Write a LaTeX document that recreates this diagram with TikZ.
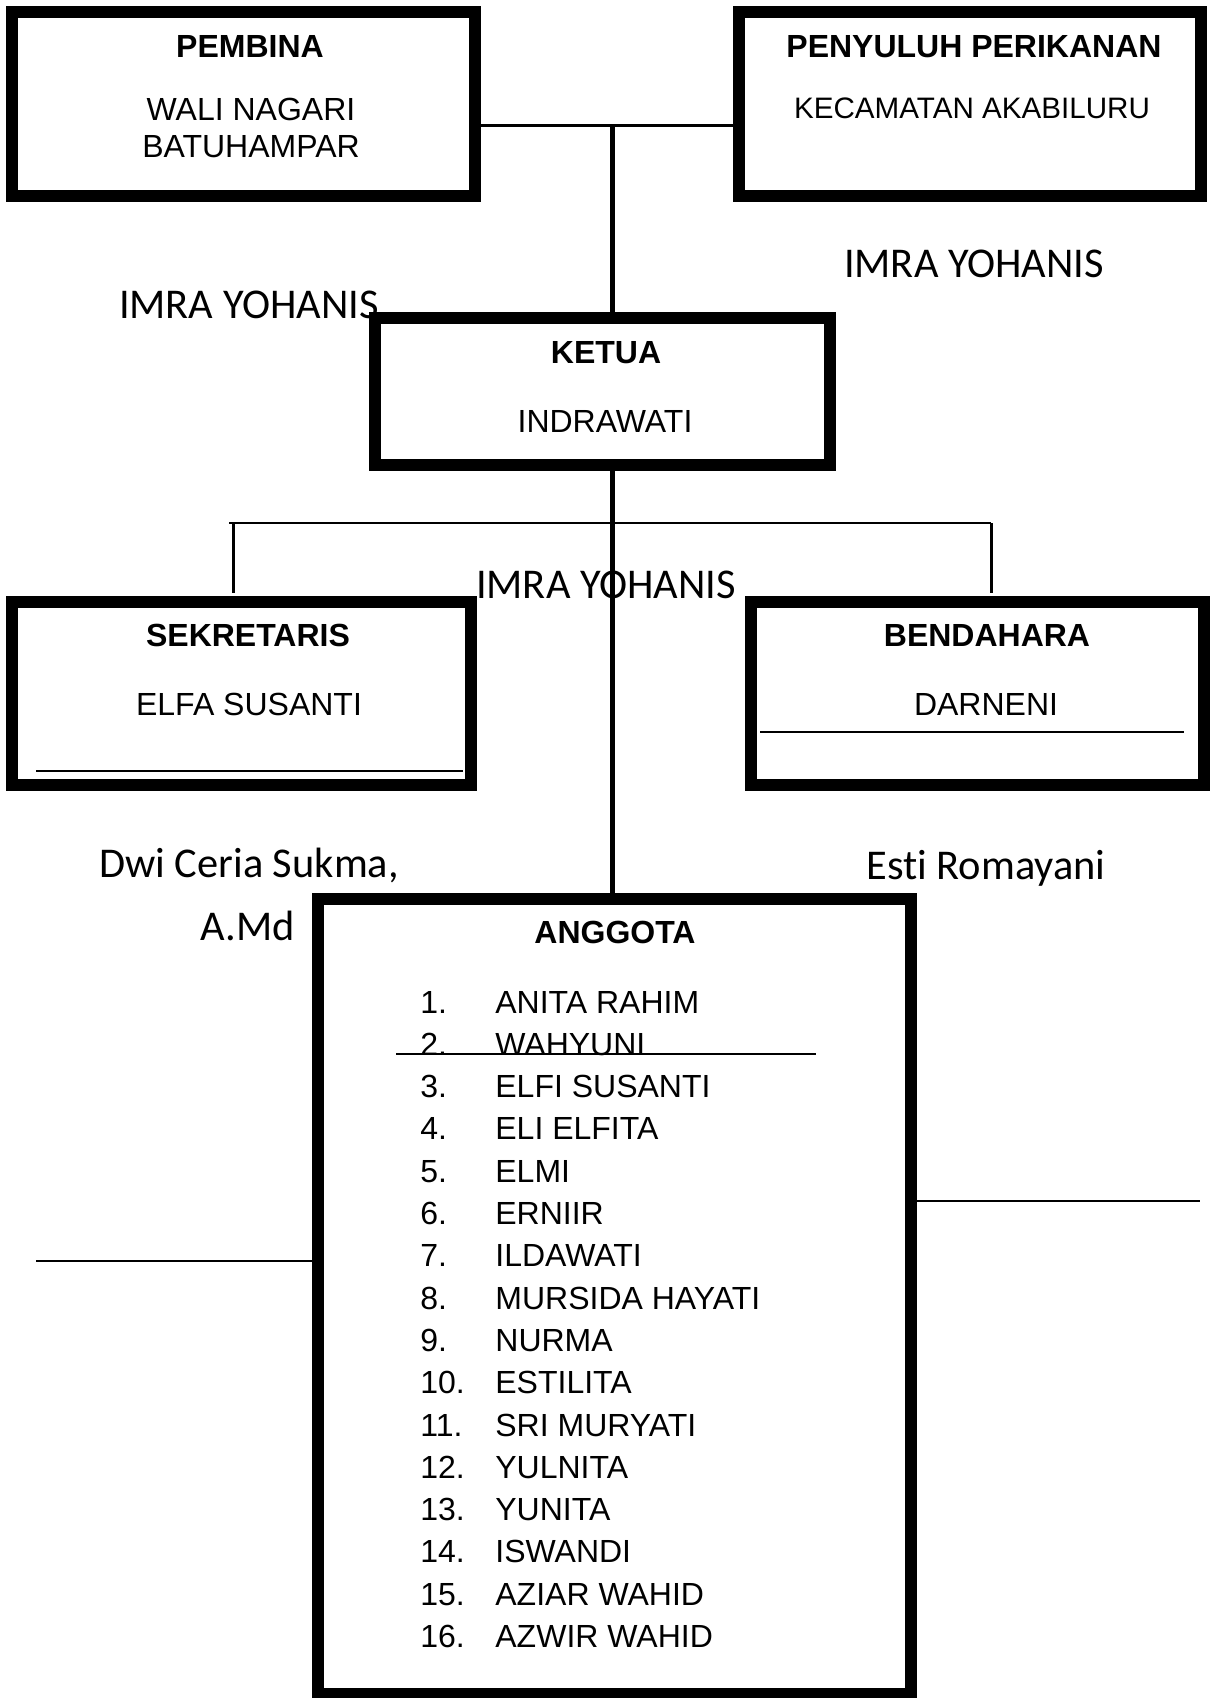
\documentclass[tikz,border=0pt]{standalone}
\usepackage{fontspec}
\setmainfont{Liberation Sans}
\newfontfamily\calibri[Ligatures=NoCommon]{Carlito}
\usetikzlibrary{positioning,calc}

\begin{document}
\begin{tikzpicture}[x=0.5pt,y=-0.5pt,
  box/.style={draw,line width=6pt,inner sep=0pt},
  head/.style={font=\fontsize{16}{19}\selectfont\bfseries,anchor=base,inner sep=0pt},
  person/.style={font=\fontsize{16}{19}\selectfont,anchor=base,inner sep=0pt},
  hand/.style={font=\calibri\fontsize{21.2}{25}\selectfont,anchor=base,inner sep=0pt},
  item/.style={font=\fontsize{16}{19}\selectfont,anchor=base west,inner sep=0pt},
  link/.style={line width=1.5pt},
  thin/.style={line width=1pt},
  trunk/.style={line width=2.75pt}]
  \useasboundingbox (0,0) rectangle (1216,1698);

  \node[box,minimum width=231.5pt,minimum height=92pt] (pembina) at (243.5,104) {};
  \node[box,minimum width=231pt,minimum height=92pt] (penyuluh) at (970,104) {};
  \node[box,minimum width=227.5pt,minimum height=73.5pt] (ketua) at (602.5,391.5) {};
  \node[box,minimum width=229.5pt,minimum height=91.5pt] (sekretaris) at (241.5,693.5) {};
  \node[box,minimum width=226.5pt,minimum height=91.5pt] (bendahara) at (977.5,693.5) {};
  \node[box,minimum width=296.5pt,minimum height=397.5pt] (anggota) at (614.5,1296.5) {};

  \node[head] (tpembina) at (250,57) {PEMBINA};
  \node[person] (npembina1) at (251,120) {WALI NAGARI};
  \node[person] (npembina2) at (251,157) {BATUHAMPAR};
  \node[head] (tpenyuluh) at (974,57) {PENYULUH PERIKANAN};
  \node[person,font=\fontsize{14.8}{18}\selectfont] (npenyuluh) at (972,118) {KECAMATAN AKABILURU};
  \node[head] (tketua) at (606,363) {KETUA};
  \node[person] (nketua) at (605,432) {INDRAWATI};
  \node[head] (tsekretaris) at (248,646) {SEKRETARIS};
  \node[person] (nsekretaris) at (249,715) {ELFA SUSANTI};
  \node[head] (tbendahara) at (987,646) {BENDAHARA};
  \node[person] (nbendahara) at (986,715) {DARNENI};
  \node[head] (tanggota) at (615,943) {ANGGOTA};

  \node[hand] (imraR) at (974,277) {IMRA YOHANIS};
  \node[hand] (imraL) at (249,318) {IMRA YOHANIS};
  \node[hand] (imraM) at (606,598) {IMRA YOHANIS};
  \node[hand] (dwi1) at (249,877) {Dwi Ceria Sukma,};
  \node[hand] (dwi2) at (248,940) {A.Md};
  \node[hand] (esti) at (986,879) {Esti Romayani};

  \foreach \n/\who in {1/ANITA RAHIM,2/WAHYUNI,3/ELFI SUSANTI,4/ELI ELFITA,
    5/ELMI,6/ERNIIR,7/ILDAWATI,8/MURSIDA HAYATI,9/NURMA,10/ESTILITA,
    11/SRI MURYATI,12/YULNITA,13/YUNITA,14/ISWANDI,15/AZIAR WAHID,16/AZWIR WAHID}{
    \node[item] (num\n) at (420,{1013+42.3*(\n-1)}) {\n.};
    \node[item] (who\n) at (495,{1013+42.3*(\n-1)}) {\who};
  }

  \coordinate (top) at (612.5,125);
  \coordinate (branch) at (612.5,523);
  \coordinate (dropL) at (233.5,523);
  \coordinate (dropR) at (991,523);
  \coordinate (stubL) at (36,1261);
  \coordinate (stubR) at (1200,1201);

  \draw[link] (pembina.east |- top) -- (penyuluh.west |- top);
  \draw[trunk] (top) -- (top |- ketua.north);
  \draw[trunk] (top |- ketua.south) -- (top |- anggota.north);
  \draw[thin] (229,523) -- (dropR);
  \draw[link] (dropL) -- ($(dropL |- sekretaris.north)+(0,-3)$);
  \draw[link] (dropR) -- ($(dropR |- bendahara.north)+(0,-3)$);
  \draw[thin] (stubL) -- (stubL -| anggota.west);
  \draw[thin] (anggota.east |- stubR) -- (stubR);

  \draw[thin] (36,771) -- (463,771);
  \draw[thin] (760,732) -- (1184,732);
  \draw[thin] (396,1054) -- (816,1054);
\end{tikzpicture}
\end{document}
